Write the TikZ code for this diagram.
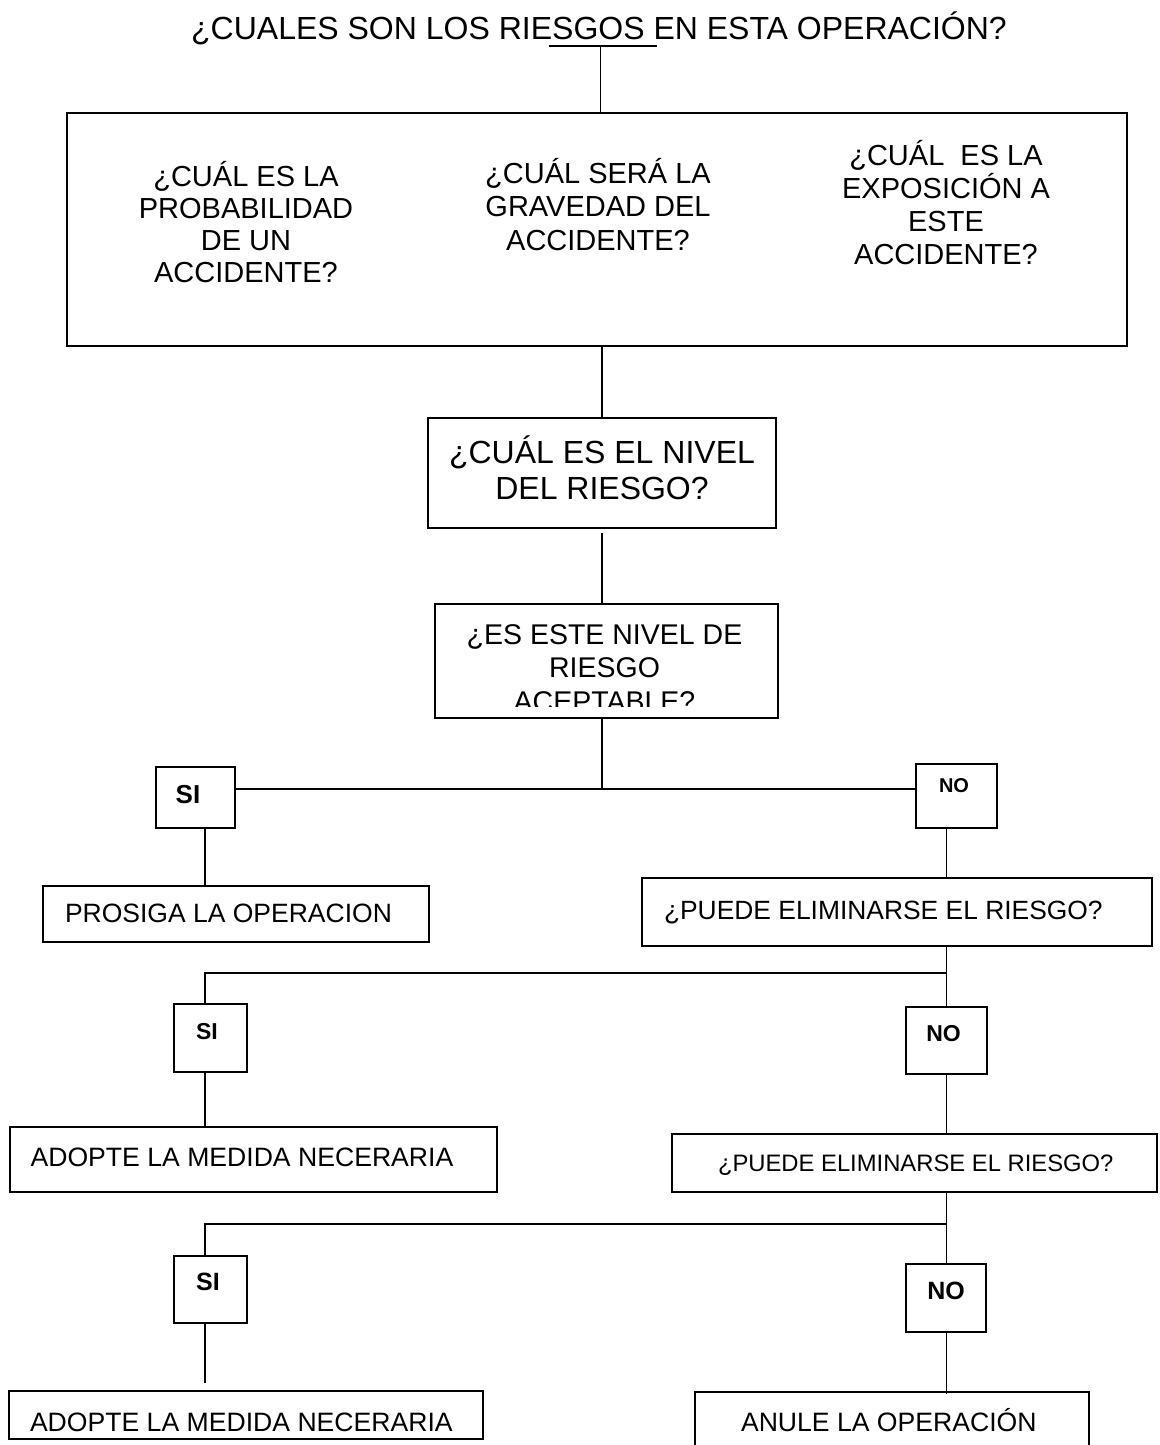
\documentclass[tikz,border=0pt]{standalone}
\usepackage{fontspec}
\setmainfont{Liberation Sans}
\newcommand\boxnode[5]{\node[box, minimum width={#4-#2}, minimum height={#5-#3}] (#1) at ({(#2+#4)/2},{(#3+#5)/2}) {};}
\begin{document}
\begin{tikzpicture}[x=1pt,y=-1pt,
  box/.style={draw, line width=1.6pt, inner sep=0pt, outer sep=0pt},
  link/.style={line width=1.4pt},
  fs/.style 2 args={inner sep=0pt, outer sep=0pt, font=\fontsize{#1}{#2}\selectfont},
  bfs/.style={inner sep=0pt, outer sep=0pt, font=\fontsize{#1}{#1}\selectfont\bfseries}]
\useasboundingbox (0,0) rectangle (1159,1445);
\clip (0,0) rectangle (1159,1445);

% title
\node[fs={32}{36}, anchor=base] (title) at (599,40) {¿CUALES SON LOS RIESGOS EN ESTA OPERACIÓN?};
\coordinate (ulL) at (548.5,46);
\coordinate (ulR) at (657,46);
\coordinate (ul) at (600.6,46);
\draw[link] (ulL) -- (ulR);

% boxes
\boxnode{big}{67}{113}{1127}{346}
\boxnode{nivel}{428}{418}{776}{528}
\boxnode{acept}{435}{604}{778}{718}
\boxnode{si1}{156}{767}{235}{828}
\boxnode{no1}{916}{764}{997}{828}
\boxnode{prosiga}{43}{886}{429}{942}
\boxnode{puede1}{642}{878}{1152}{946}
\boxnode{si2}{174}{1004}{247}{1072}
\boxnode{no2}{906}{1007}{987}{1074}
\boxnode{adopta1}{10}{1127}{497}{1192}
\boxnode{puede2}{672}{1134}{1157}{1192}
\boxnode{si3}{174}{1256}{247}{1323}
\boxnode{no3}{906}{1264}{986}{1332}
\boxnode{adopta2}{9}{1391}{483}{1439}
\boxnode{anule}{695}{1392}{1089}{1460}

% texts of the three questions
\node[fs={29}{32}, align=center] (q1) at (246,222) {¿CUÁL ES LA\\PROBABILIDAD\\DE UN\\ACCIDENTE?};
\node[fs={29}{33.5}, align=center] (q2) at (598,204.5) {¿CUÁL SERÁ LA\\GRAVEDAD DEL\\ACCIDENTE?};
\node[fs={29}{33}, align=center] (q3) at (946,203) {¿CUÁL\ \ ES LA\\EXPOSICIÓN A\\ESTE\\ACCIDENTE?};

\node[fs={32}{35.5}, align=center] (tnivel) at (602,468) {¿CUÁL ES EL NIVEL\\DEL RIESGO?};
% the last line of this box is cut off by its text frame
\begin{scope}
  \clip (437,606) rectangle (776,706.5);
  \node[fs={28.5}{33.5}, align=center] (tacept) at (604.5,668) {¿ES ESTE NIVEL DE\\RIESGO\\ACEPTABLE?};
\end{scope}

% answer labels
\node[bfs=26] (tsi1) at (188,795) {SI};
\node[bfs=20] (tno1) at (954,786) {NO};
\node[bfs=23] (tsi2) at (207,1032) {SI};
\node[bfs=23] (tno2) at (943.5,1033.5) {NO};
\node[bfs=25] (tsi3) at (208,1282) {SI};
\node[bfs=25] (tno3) at (946,1291) {NO};

% action texts
\node[fs={26.4}{30}, anchor=base west] (tpuede1) at (664,919.5) {¿PUEDE ELIMINARSE EL RIESGO?};
\node[fs={23.8}{28}, anchor=base west] (tpuede2) at (718,1171.5) {¿PUEDE ELIMINARSE EL RIESGO?};
\node[fs={26.5}{30}, anchor=base west] (tprosiga) at (65,922.5) {PROSIGA LA OPERACION};
\node[fs={26.6}{30}, anchor=base west] (tadopta1) at (30.6,1166.5) {ADOPTE LA MEDIDA NECERARIA};
\node[fs={26.6}{30}, anchor=base west] (tadopta2) at (30,1431.5) {ADOPTE LA MEDIDA NECERARIA};
\node[fs={26.6}{30}, anchor=base west] (tanule) at (741,1431.5) {ANULE LA OPERACIÓN};

% connectors
\coordinate (cL) at (205,0);
\coordinate (cM) at (602,0);
\coordinate (cR) at (946.5,0);
\coordinate (j1) at (602,789);
\coordinate (j2) at (946.5,973);
\coordinate (j3) at (946.5,1224);

\draw[link] (ul) -- (ul |- big.north);
\draw[link] (cM |- big.south) -- (cM |- nivel.north);
\draw[link, shorten <=5pt] (cM |- nivel.south) -- (cM |- acept.north);
\draw[link] (cM |- acept.south) -- (j1);
\draw[link] (si1.east |- j1) -- (no1.west |- j1);
\draw[link] (cL |- si1.south) -- (cL |- prosiga.north);
\draw[link] (cR |- no1.south) -- (cR |- puede1.north);
\draw[link] (cR |- puede1.south) -- (cR |- no2.north);
\draw[link] (j2) -- (cL |- j2) -- (cL |- si2.north);
\draw[link] (cL |- si2.south) -- (cL |- adopta1.north);
\draw[link] (cR |- no2.south) -- (cR |- puede2.north);
\draw[link] (cR |- puede2.south) -- (cR |- no3.north);
\draw[link] (j3) -- (cL |- j3) -- (cL |- si3.north);
\draw[link, shorten >=8pt] (cL |- si3.south) -- (cL |- adopta2.north);
\draw[link, shorten >=-1.5pt] (cR |- no3.south) -- (cR |- anule.north);
\end{tikzpicture}
\end{document}
